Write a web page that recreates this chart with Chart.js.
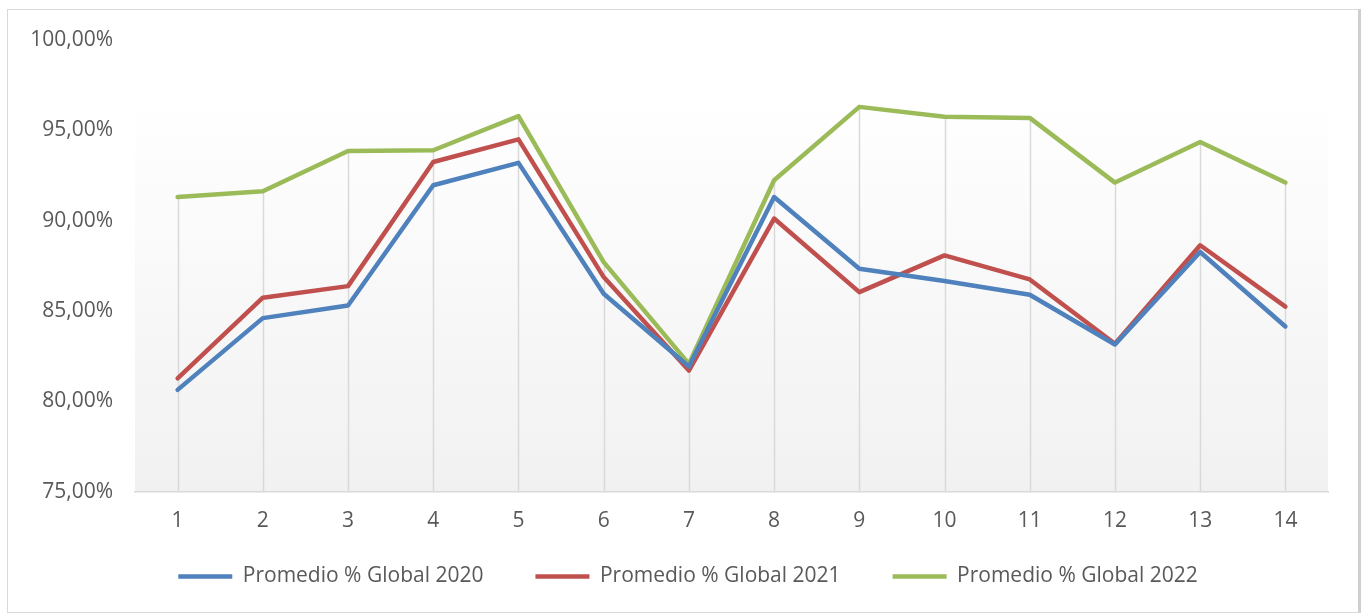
<!DOCTYPE html>
<html>
<head>
<meta charset="utf-8">
<script src="https://cdn.jsdelivr.net/npm/chart.js@4/dist/chart.umd.min.js"></script>
<style>
  html, body { margin: 0; padding: 0; background: #fff; }
  #box {
    position: absolute; left: 7px; top: 9px; width: 1350px; height: 602px;
    border: 1px solid #d9d9d9; border-right: 3px solid #cfcfcf; background: #fff;
  }
  canvas { display: block; }
</style>
</head>
<body>
<div id="box"><canvas id="c" width="1350" height="602"></canvas></div>
<script>
const labels = ['1', '2', '3', '4', '5', '6', '7', '8', '9', '10', '11', '12', '13', '14']
const series2020 = [80.64, 84.61, 85.31, 91.96, 93.2, 85.96, 81.93, 91.31, 87.34, 86.66, 85.9, 83.15, 88.27, 84.15]
const series2021 = [81.28, 85.74, 86.38, 93.25, 94.5, 86.88, 81.71, 90.12, 86.05, 88.08, 86.75, 83.19, 88.64, 85.25]
const series2022 = [91.31, 91.63, 93.86, 93.9, 95.79, 87.71, 82.08, 92.24, 96.3, 95.75, 95.69, 92.11, 94.36, 92.11]
const seriesNames = ['Promedio % Global 2020', 'Promedio % Global 2021', 'Promedio % Global 2022']
const yMin = 75
const yMax = 100
const yStep = 5

const fmt = (v) => v.toFixed(2).replace('.', ',') + '%'

// plot area gradient fill
const plotBg = {
  id: 'plotBg',
  beforeDraw(chart) {
    const { ctx, chartArea: a } = chart
    const g = ctx.createLinearGradient(0, a.top, 0, a.bottom)
    g.addColorStop(0, '#ffffff')
    g.addColorStop(0.13, '#ffffff')
    g.addColorStop(1, '#f1f1f1')
    ctx.save()
    ctx.fillStyle = g
    ctx.fillRect(a.left, a.top, a.right - a.left, a.bottom - a.top)
    ctx.restore()
  },
}

// excel style drop lines: from the highest point of each category down to the axis
const dropLines = {
  id: 'dropLines',
  beforeDatasetsDraw(chart) {
    const { ctx, scales } = chart
    const x = scales.x
    const y = scales.y
    ctx.save()
    ctx.strokeStyle = '#d9d9d9'
    ctx.lineWidth = 1.5
    labels.forEach((lab, i) => {
      const top = Math.max(...chart.data.datasets.map((d) => d.data[i]))
      const px = Math.round(x.getPixelForValue(i)) + 0.5
      ctx.beginPath()
      ctx.moveTo(px, y.getPixelForValue(top))
      ctx.lineTo(px, y.getPixelForValue(yMin))
      ctx.stroke()
    })
    ctx.restore()
  },
}

// wide gaps between legend items without the same gap above them
const legendSpot = {
  id: 'legendSpot',
  beforeInit(chart) {
    const lg = chart.legend
    if (!lg) return
    const fit = lg.fit
    lg.fit = function () {
      fit.call(this)
      this.height = 61
    }
  },
  afterLayout(chart) {
    const lg = chart.legend
    if (!lg) return
    lg.top -= 37
    lg.left += 20
    lg.right += 20
  },
}

const makeSet = (label, data, color) => ({
  label,
  data,
  borderColor: color,
  backgroundColor: color,
  borderWidth: 4.5,
  borderCapStyle: 'round',
  borderJoinStyle: 'round',
  pointRadius: 0,
  pointHoverRadius: 0,
  tension: 0,
  pointStyle: 'line',
})

new Chart(document.getElementById('c').getContext('2d'), {
  type: 'line',
  data: {
    labels,
    datasets: [
      makeSet(seriesNames[0], series2020, '#4f81bd'),
      makeSet(seriesNames[1], series2021, '#c0504d'),
      makeSet(seriesNames[2], series2022, '#9bbb59'),
    ],
  },
  options: {
    responsive: false,
    animation: false,
    layout: { padding: { top: 30, right: 30, left: 0, bottom: 0 } },
    scales: {
      x: {
        offset: true,
        grid: { display: false, drawTicks: false },
        border: { display: true, color: '#d9d9d9', width: 1.5 },
        ticks: { color: '#595959', font: { family: 'Open Sans', size: 21 }, padding: 17, maxRotation: 0 },
      },
      y: {
        min: yMin,
        max: yMax,
        grid: { display: false, drawTicks: false },
        border: { display: false },
        afterFit: (s) => {
          s.width = 127
          s.paddingTop = 0
          s.paddingBottom = 0
        },
        ticks: {
          stepSize: yStep,
          color: '#595959',
          padding: 22,
          font: { family: 'Open Sans', size: 21 },
          callback: (v) => fmt(v),
        },
      },
    },
    plugins: {
      tooltip: { enabled: false },
      legend: {
        position: 'bottom',
        labels: {
          usePointStyle: true,
          pointStyleWidth: 54,
          color: '#595959',
          font: { family: 'Open Sans', size: 21 },
          padding: 52,
        },
      },
    },
  },
  plugins: [plotBg, dropLines, legendSpot],
})
</script>
</body>
</html>
